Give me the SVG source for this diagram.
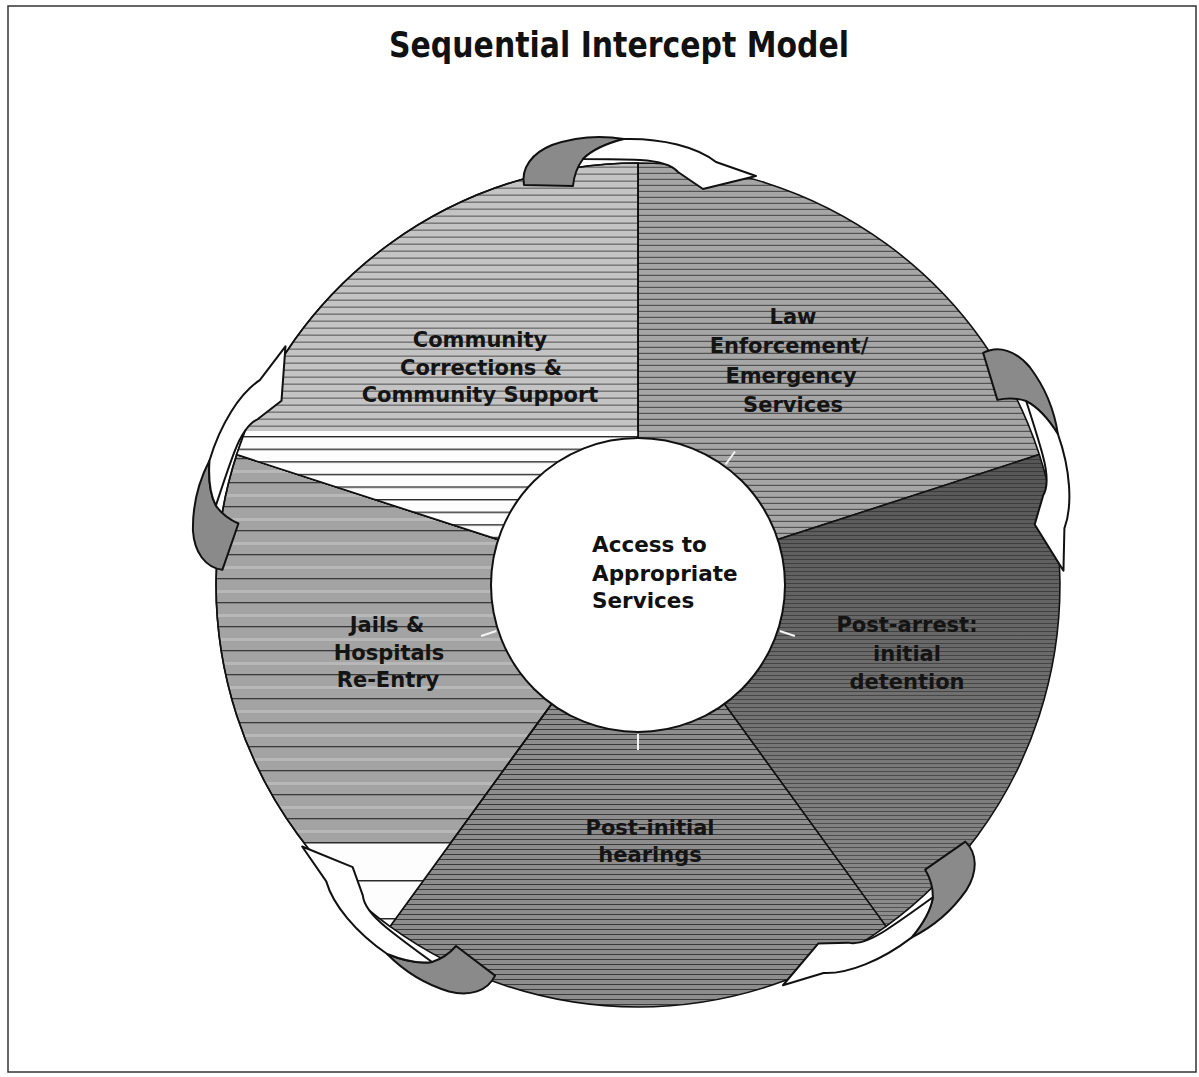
<svg xmlns="http://www.w3.org/2000/svg" xmlns:xlink="http://www.w3.org/1999/xlink" width="1199" height="1077" viewBox="0 0 1199 1077">
  <style>
    .title { font-family: "DejaVu Sans", Verdana, sans-serif; font-weight: bold; font-size: 36px; fill: #111; text-anchor: middle; }
    .lbl { font-family: "DejaVu Sans", Verdana, sans-serif; font-weight: bold; font-size: 21px; fill: #141414; text-anchor: middle; }
    .ctr { font-family: "DejaVu Sans", Verdana, sans-serif; font-weight: bold; font-size: 21.5px; fill: #111; }
    .seg { stroke: #111; stroke-width: 1.6; stroke-linejoin: round; }
    .atail { fill: #8a8a8a; stroke: #111; stroke-width: 2; stroke-linejoin: round; }
    .ahead { fill: #fff; stroke: #111; stroke-width: 2; stroke-linejoin: round; }
    .tick { stroke: #f4f4f4; stroke-width: 2; }
  </style>
  <defs>
    <pattern id="pCC" patternUnits="userSpaceOnUse" width="12" height="7">
      <rect width="12" height="7" fill="#c4c4c4"/>
      <rect y="5.6" width="12" height="1.1" fill="#5a5a5a"/>
    </pattern>
    <pattern id="pCCw" patternUnits="userSpaceOnUse" x="0" y="436" width="12" height="12.6">
      <rect width="12" height="12.6" fill="#fdfdfd"/>
      <rect y="0" width="12" height="1.4" fill="#2a2a2a"/>
    </pattern>
    <pattern id="pLE" patternUnits="userSpaceOnUse" width="12" height="6">
      <rect width="12" height="6" fill="#a6a6a6"/>
      <rect y="4.8" width="12" height="1.1" fill="#4a4a4a"/>
    </pattern>
    <linearGradient id="gPA" x1="0" y1="0" x2="0" y2="1">
      <stop offset="0" stop-color="#555"/>
      <stop offset="0.35" stop-color="#666"/>
      <stop offset="1" stop-color="#8e8e8e"/>
    </linearGradient>
    <pattern id="pPAl" patternUnits="userSpaceOnUse" width="12" height="4">
      <rect y="3" width="12" height="1" fill="#222" opacity="0.55"/>
    </pattern>
    <pattern id="pPI" patternUnits="userSpaceOnUse" width="12" height="5">
      <rect width="12" height="5" fill="#8d8d8d"/>
      <rect y="4" width="12" height="1" fill="#3a3a3a"/>
    </pattern>
    <pattern id="pJH" patternUnits="userSpaceOnUse" x="0" y="2" width="12" height="24">
      <rect width="12" height="24" fill="#a3a3a3"/>
      <rect y="0" width="12" height="1.3" fill="#3a3a3a"/>
      <rect y="12" width="12" height="3" fill="#b8b8b8"/>
    </pattern>
    <pattern id="pJHw" patternUnits="userSpaceOnUse" x="0" y="842" width="12" height="38">
      <rect width="12" height="38" fill="#fdfdfd"/>
      <rect y="0" width="12" height="1.5" fill="#2a2a2a"/>
    </pattern>
    <clipPath id="cCC"><path d="M638,585 L236.7,454.6 A422,422 0 0 1 638,163 Z"/></clipPath>
    <clipPath id="cJH"><path d="M638,585 L390,926.4 A422,422 0 0 1 236.7,454.6 Z"/></clipPath>
    <g id="arrow">
      <path class="atail" d="M524,185 C521,168 532,153 552,145 C575,137 600,135 624,139 C608,143 592,150 583,159 C577,167 574,175 573,186 Z"/>
      <path class="ahead" d="M583,159 C592,150 608,143 624,139 C662,138 697,147 716,162 L756,176 L703,189 L678,172 C672,165 658,161 640,160 C620,159 598,159 583,159 Z"/>
    </g>
  </defs>

  <rect x="8" y="6" width="1188" height="1066" fill="#fff" stroke="#333" stroke-width="1.5"/>

  <text class="title" x="619" y="57" textLength="460" lengthAdjust="spacingAndGlyphs">Sequential Intercept Model</text>

  <g id="node-law-enforcement">
    <path class="seg" d="M638,585 L638,163 A422,422 0 0 1 1039.3,454.6 Z" fill="url(#pLE)"/>
    <text class="lbl" x="793" y="324">Law</text>
    <text class="lbl" x="789" y="353">Enforcement/</text>
    <text class="lbl" x="791" y="383">Emergency</text>
    <text class="lbl" x="793" y="412">Services</text>
  </g>

  <g id="node-post-arrest">
    <path class="seg" d="M638,585 L1039.3,454.6 A422,422 0 0 1 886,926.4 Z" fill="url(#gPA)"/>
    <path d="M638,585 L1039.3,454.6 A422,422 0 0 1 886,926.4 Z" fill="url(#pPAl)"/>
    <text class="lbl" x="907" y="632">Post-arrest:</text>
    <text class="lbl" x="907" y="661">initial</text>
    <text class="lbl" x="907" y="689">detention</text>
  </g>

  <g id="node-post-initial">
    <path class="seg" d="M638,585 L886,926.4 A422,422 0 0 1 390,926.4 Z" fill="url(#pPI)"/>
    <text class="lbl" x="650" y="835">Post-initial</text>
    <text class="lbl" x="650" y="862">hearings</text>
  </g>

  <g id="node-jails-hospitals">
    <path class="seg" d="M638,585 L390,926.4 A422,422 0 0 1 236.7,454.6 Z" fill="url(#pJH)"/>
    <rect x="200" y="842" width="300" height="120" fill="url(#pJHw)" clip-path="url(#cJH)"/>
    <path d="M638,585 L390,926.4 A422,422 0 0 1 236.7,454.6 Z" fill="none" stroke="#111" stroke-width="1.6"/>
    <text class="lbl" x="387" y="632">Jails &amp;</text>
    <text class="lbl" x="389" y="660">Hospitals</text>
    <text class="lbl" x="388" y="687">Re-Entry</text>
  </g>

  <g id="node-community">
    <path class="seg" d="M638,585 L236.7,454.6 A422,422 0 0 1 638,163 Z" fill="url(#pCC)"/>
    <rect x="200" y="431" width="440" height="160" fill="url(#pCCw)" clip-path="url(#cCC)"/>
    <path d="M638,585 L236.7,454.6 A422,422 0 0 1 638,163 Z" fill="none" stroke="#111" stroke-width="1.6"/>
    <text class="lbl" x="480" y="347">Community</text>
    <text class="lbl" x="481" y="375">Corrections &amp;</text>
    <text class="lbl" x="480" y="402">Community Support</text>
  </g>

  <g id="node-center">
    <circle cx="638" cy="585" r="147" fill="#fff" stroke="#111" stroke-width="2"/>
    <line class="tick" x1="725.6" y1="464.5" x2="735" y2="451.5"/>
    <line class="tick" x1="779.7" y1="631" x2="794.9" y2="636"/>
    <line class="tick" x1="638" y1="734" x2="638" y2="750"/>
    <line class="tick" x1="496.3" y1="631" x2="481.1" y2="636"/>
    <text class="ctr" x="592" y="552">Access to</text>
    <text class="ctr" x="592" y="581">Appropriate</text>
    <text class="ctr" x="592" y="608">Services</text>
  </g>

  <g id="connectors">
    <use xlink:href="#arrow"/>
    <use xlink:href="#arrow" transform="rotate(72 638 585)"/>
    <use xlink:href="#arrow" transform="rotate(144 638 585)"/>
    <use xlink:href="#arrow" transform="rotate(216 638 585)"/>
    <use xlink:href="#arrow" transform="rotate(288 638 585)"/>
  </g>
</svg>
